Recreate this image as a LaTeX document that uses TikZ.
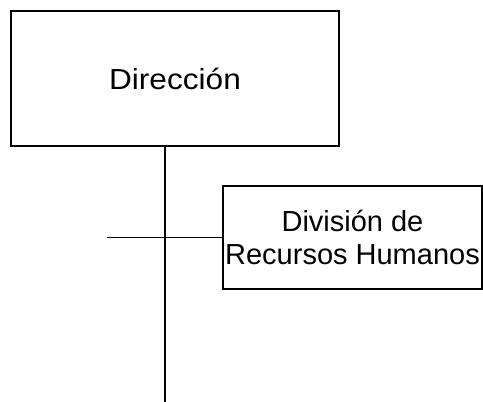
\documentclass[tikz,border=0pt]{standalone}
\usepackage{fontspec}
\setmainfont{Liberation Sans}
\begin{document}
\begin{tikzpicture}[x=1pt,y=1pt,
  box/.style={draw=black,line width=1.5pt,rectangle,inner sep=0pt,align=center,font=\fontsize{29}{33}\selectfont},
  conn/.style={draw=black,line width=1.4pt}]
\useasboundingbox (0,0) rectangle (483,-402);
\node[box,minimum width=328pt,minimum height=135pt] (dir) at (175,-78.5) {\scalebox{1.09}[1]{Dirección}};
\node[box,minimum width=259pt,minimum height=103pt] (hr) at (352.5,-237.5) {División de\\Recursos Humanos};
\coordinate (bot) at (165,-402);
\coordinate (hl) at (107,-237.5);
\draw[conn] (dir.south -| bot) -- (bot);
\draw[conn] (hl) -- (hr.west);
\end{tikzpicture}
\end{document}
